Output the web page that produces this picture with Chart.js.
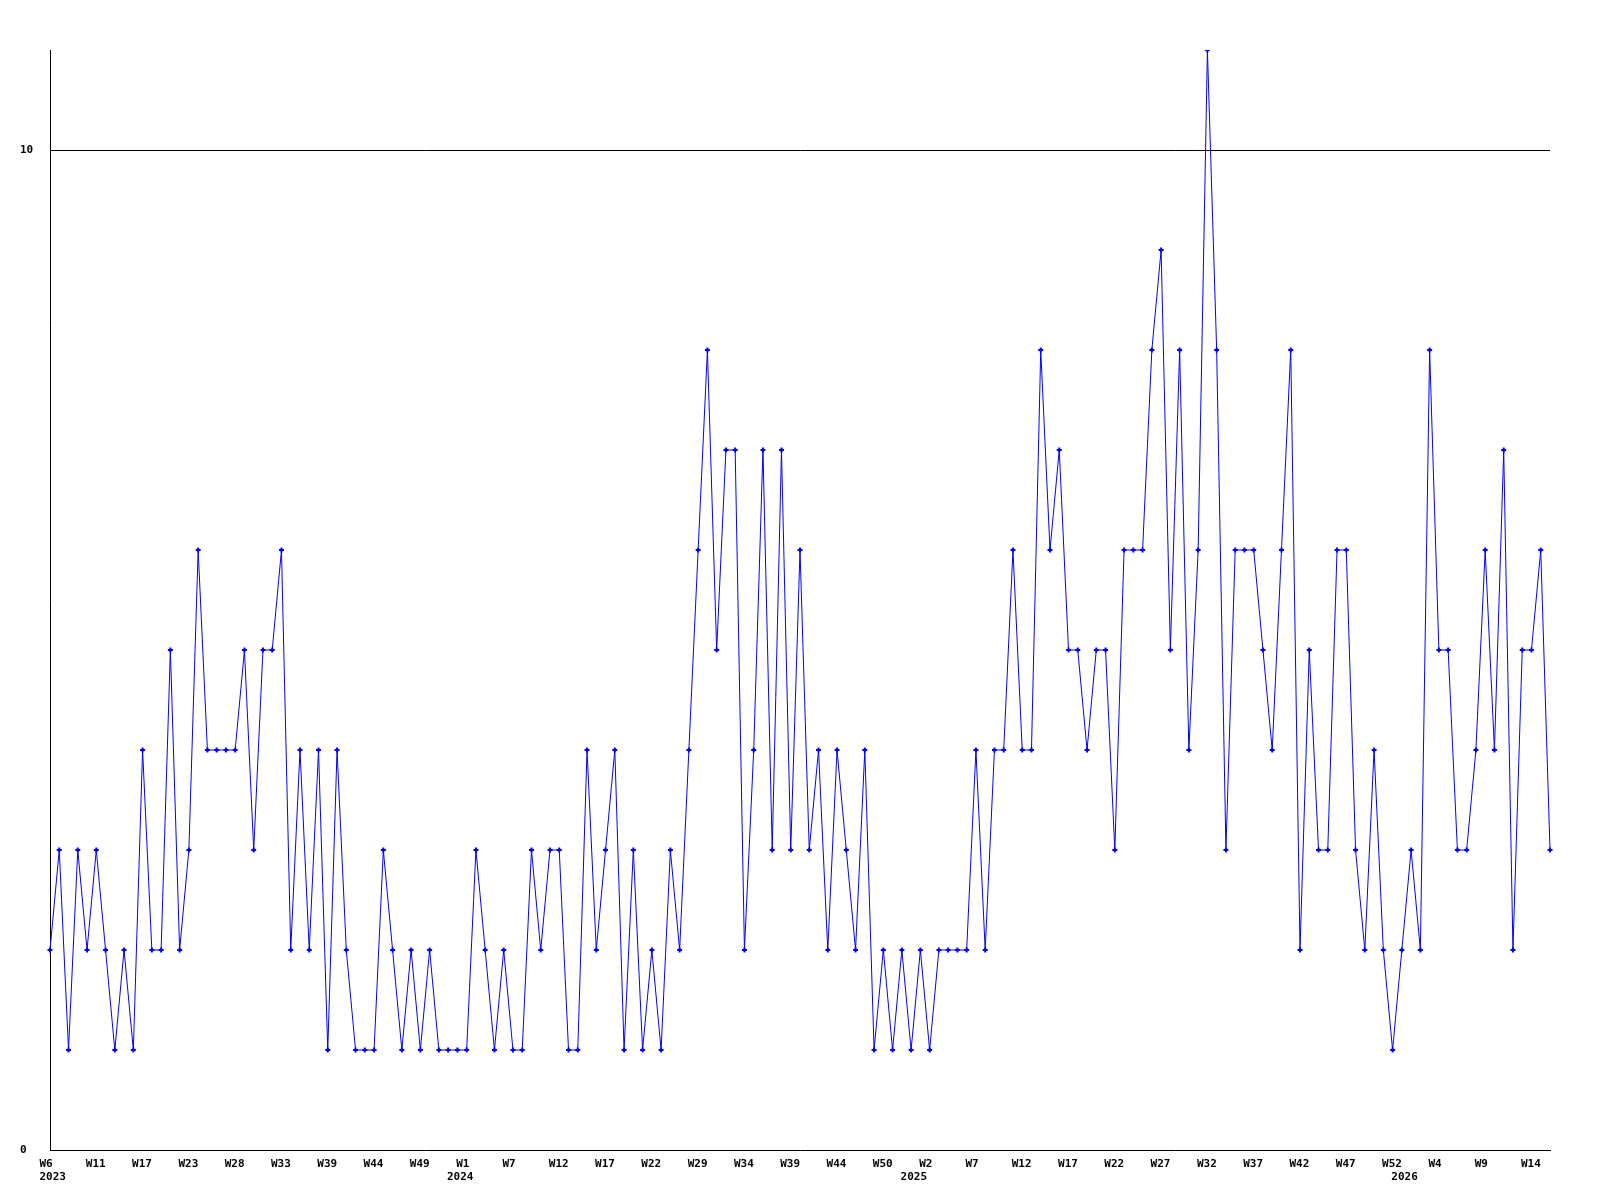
<!DOCTYPE html>
<html>
<head>
<meta charset="utf-8">
<script src="https://cdn.jsdelivr.net/npm/chart.js@4/dist/chart.umd.min.js"></script>
<style>
  html, body { margin: 0; padding: 0; background: #fff; }
  #wrap { width: 1600px; height: 1200px; }
</style>
</head>
<body>
<div id="wrap"><canvas id="weekly-chart" width="1600" height="1200"></canvas></div>
<script>
// Weekly counts, one per plotted week (weeks with no entries are not plotted)
const weeklyCounts = [
  2, 3, 1, 3, 2, 3, 2, 1, 2, 1,
  4, 2, 2, 5, 2, 3, 6, 4, 4, 4,
  4, 5, 3, 5, 5, 6, 2, 4, 2, 4,
  1, 4, 2, 1, 1, 1, 3, 2, 1, 2,
  1, 2, 1, 1, 1, 1, 3, 2, 1, 2,
  1, 1, 3, 2, 3, 3, 1, 1, 4, 2,
  3, 4, 1, 3, 1, 2, 1, 3, 2, 4,
  6, 8, 5, 7, 7, 2, 4, 7, 3, 7,
  3, 6, 3, 4, 2, 4, 3, 2, 4, 1,
  2, 1, 2, 1, 2, 1, 2, 2, 2, 2,
  4, 2, 4, 4, 6, 4, 4, 8, 6, 7,
  5, 5, 4, 5, 5, 3, 6, 6, 6, 8,
  9, 5, 8, 4, 6, 11, 8, 3, 6, 6,
  6, 5, 4, 6, 8, 2, 5, 3, 3, 6,
  6, 3, 2, 4, 2, 1, 2, 3, 2, 8,
  5, 5, 3, 3, 4, 6, 4, 7, 2, 5,
  5, 6, 3
];

// Week labels shown under every 5th point
const weekTicks = [
  'W6', 'W11', 'W17', 'W23', 'W28', 'W33', 'W39', 'W44', 'W49',
  'W1', 'W7', 'W12', 'W17', 'W22', 'W29', 'W34', 'W39', 'W44', 'W50',
  'W2', 'W7', 'W12', 'W17', 'W22', 'W27', 'W32', 'W37', 'W42', 'W47', 'W52',
  'W4', 'W9', 'W14'
];

// Year names and the index of the first plotted week of each year
const yearNames = ['2023', '2024', '2025', '2026'];
const yearStarts = [0, 44, 93, 146];

const yTicks = [0, 10];

const labelFont = { family: '"DejaVu Sans Mono", monospace', size: 11, weight: 'bold' };

const labels = weeklyCounts.map((_, i) => (i % 5 === 0 ? weekTicks[i / 5] : ''));

// draws the year line below the week labels
const yearLabels = {
  id: 'yearLabels',
  afterDraw(chart) {
    const ctx = chart.ctx;
    const xs = chart.scales.x;
    ctx.save();
    ctx.font = 'bold 11px "DejaVu Sans Mono", monospace';
    ctx.fillStyle = '#000';
    ctx.textAlign = 'left';
    ctx.textBaseline = 'middle';
    yearNames.forEach((name, i) => {
      ctx.fillText(name, xs.getPixelForValue(yearStarts[i]) - 10.5, xs.bottom - 23);
    });
    ctx.restore();
  }
};

const ctx = document.getElementById('weekly-chart').getContext('2d');
new Chart(ctx, {
  type: 'line',
  data: {
    labels: labels,
    datasets: [{
      data: weeklyCounts,
      borderColor: '#0000ff',
      backgroundColor: '#0000ff',
      borderWidth: 1,
      tension: 0,
      fill: false,
      pointStyle: 'cross',
      pointRadius: 2.5,
      pointBorderWidth: 2,
      pointBackgroundColor: '#0000ff',
      pointBorderColor: '#0000ff'
    }]
  },
  options: {
    responsive: false,
    animation: false,
    layout: { padding: { top: 50, right: 50, left: 20, bottom: 0 } },
    plugins: {
      legend: { display: false },
      tooltip: { enabled: false }
    },
    scales: {
      x: {
        type: 'category',
        offset: false,
        grid: { display: false, drawTicks: false },
        border: { display: true, color: '#000', width: 1 },
        ticks: {
          autoSkip: false,
          maxRotation: 0,
          minRotation: 0,
          align: 'start',
          labelOffset: -10.5,
          padding: 8,
          color: '#000',
          font: labelFont
        },
        afterFit(scale) { scale.height = 50; }
      },
      y: {
        min: 0,
        max: 11,
        afterBuildTicks(scale) { scale.ticks = yTicks.map(v => ({ value: v })); },
        grid: {
          drawTicks: false,
          color: c => (c.tick && c.tick.value === 10 ? '#000' : 'rgba(0,0,0,0)'),
          lineWidth: 1
        },
        border: { display: true, color: '#000', width: 1 },
        ticks: {
          crossAlign: 'far',
          padding: 17,
          color: '#000',
          font: labelFont
        },
        afterFit(scale) { scale.width = 30; }
      }
    }
  },
  plugins: [yearLabels]
});
</script>
</body>
</html>
